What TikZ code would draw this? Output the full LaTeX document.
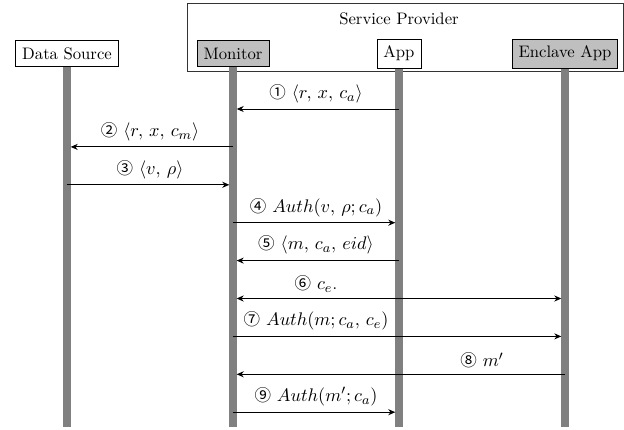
\documentclass[tikz,border=0pt]{standalone}
\usepackage{fontspec}
\newfontfamily\circfont{Noto Sans CJK SC}[Scale=0.9]
\usetikzlibrary{arrows.meta}

\begin{document}
\begin{tikzpicture}[x=0.6pt, y=-0.6pt,
    actor/.style={draw, line width=0.5pt, inner xsep=3.9pt, inner ysep=4.2pt},
    actorgray/.style={actor, fill=gray!50},
    lifeline/.style={gray, line width=4.4pt},
    msg/.style={line width=0.6pt, -{Stealth[length=4.2pt, width=3.6pt, inset=1.3pt]}, shorten >=2.2pt},
    msgboth/.style={msg, {Stealth[length=4.2pt, width=3.6pt, inset=1.3pt]}-{Stealth[length=4.2pt, width=3.6pt, inset=1.3pt]}, shorten <=2.2pt},
    lbl/.style={above, font=\fontsize{11}{13}\selectfont}]

    % Passo verticale fra i messaggi e fondo delle linee di vita
    \def\Passo{37.9}
    \def\Fondo{427}
    \def\nr#1{{\circfont #1}}

    \useasboundingbox (0,0) rectangle (624,430);

    % Riquadro del fornitore di servizi
    \node (sp) [draw=black!80, line width=0.5pt, minimum width=261.6pt, minimum height=40.8pt, inner sep=0pt] at (405.5,37.2) {};
    \node (spname) at (399,19) {Service Provider};

    % Partecipanti
    \node (ds)  [actor]     at (67,53.5)  {Data Source};
    \node (mon) [actorgray] at (233,53.5) {Monitor};
    \node (app) [actor]     at (399,53.5) {App};
    \node (enc) [actorgray] at (565,53.5) {Enclave App};

    % Linee di vita
    \foreach \p/\x in {ds/67, mon/233, app/399, enc/565} {
        \coordinate (\p-end) at (\x,\Fondo);
        \draw[lifeline] (\p.south) -- (\p-end);
    }

    % Punti dei messaggi su ogni linea di vita
    \foreach \i in {1,...,9} {
        \pgfmathsetmacro{\y}{109+\Passo*(\i-1)}
        \foreach \p/\x in {ds/67, mon/233, app/399, enc/565} {
            \coordinate (\p-\i) at (\x,\y);
        }
    }

    % Messaggi
    \draw[msg] (app-1) -- (mon-1) node[lbl, midway] {\nr{①} $\langle r,\, x,\, c_a\rangle$};
    \draw[msg] (mon-2) -- (ds-2) node[lbl, midway] {\nr{②} $\langle r,\, x,\, c_m\rangle$};
    \draw[msg] (ds-3) -- (mon-3) node[lbl, midway] {\nr{③} $\langle v,\, \rho\rangle$};
    \draw[msg] (mon-4) -- (app-4) node[lbl, midway] {\nr{④} $Auth(v,\, \rho; c_a)$};
    \draw[msg] (app-5) -- (mon-5) node[lbl, midway] {\nr{⑤} $\langle m,\, c_a,\, eid\rangle$};
    \draw[msgboth] (mon-6) -- (enc-6) node[lbl, pos=0.25] {\nr{⑥} $c_e$.};
    \draw[msg] (mon-7) -- (enc-7) node[lbl, pos=0.25] {\nr{⑦} $Auth(m; c_a,\, c_e)$};
    \draw[msg] (enc-8) -- (mon-8) node[lbl, pos=0.25] {\nr{⑧} $m'$};
    \draw[msg] (mon-9) -- (app-9) node[lbl, midway] {\nr{⑨} $Auth(m'; c_a)$};

\end{tikzpicture}
\end{document}
